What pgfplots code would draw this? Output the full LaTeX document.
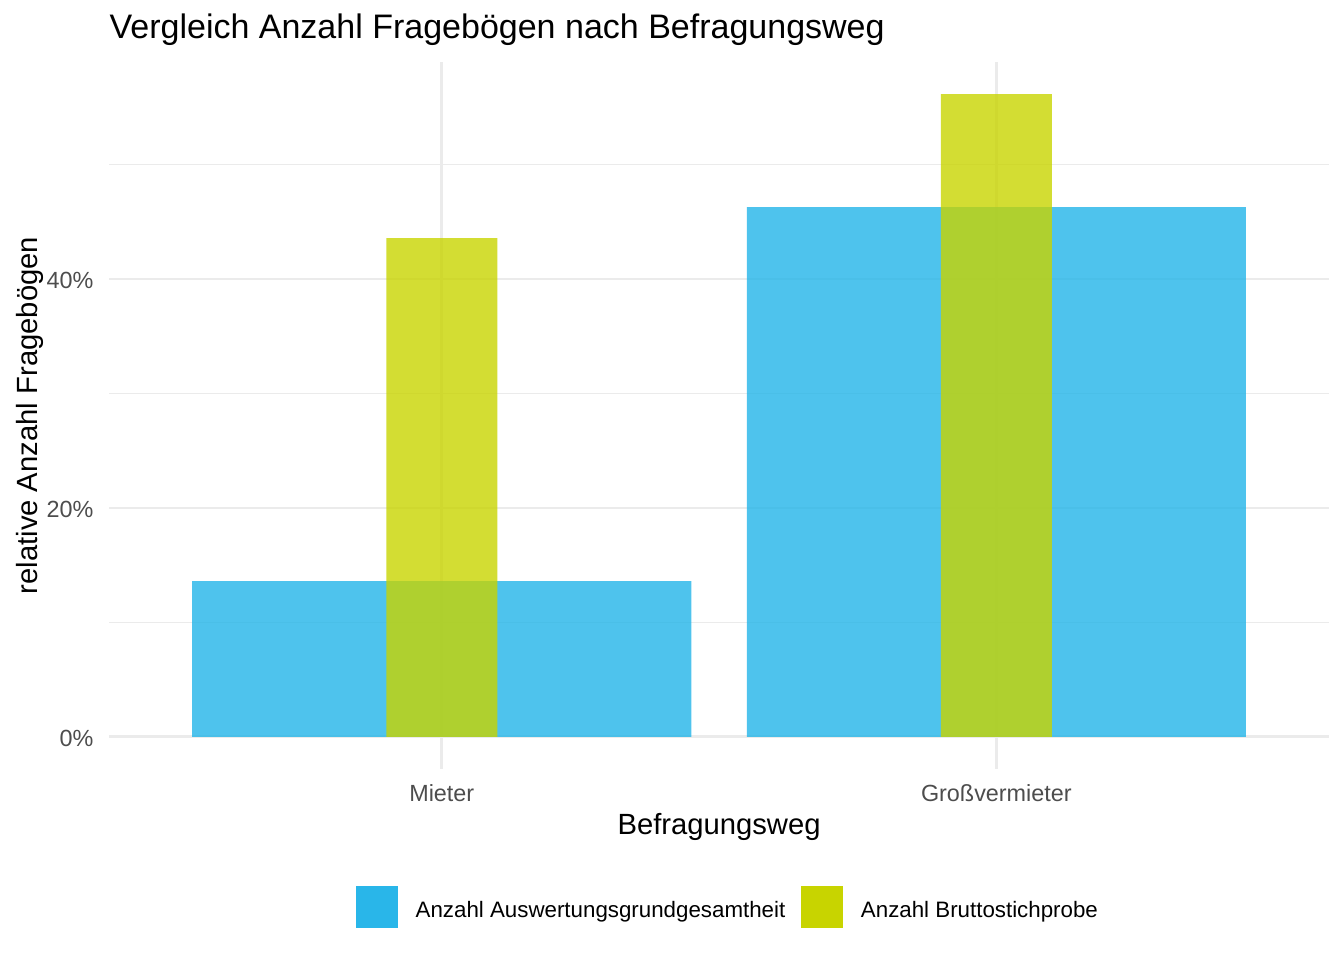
\documentclass[border=0pt]{standalone}
\usepackage{pgfplots}
\pgfplotsset{compat=1.18}
\usepackage{fontspec}
\setmainfont{Liberation Sans}
\definecolor{cBlue}{HTML}{29B6E9}
\definecolor{cBlueBar}{HTML}{22B4E8}
\definecolor{cYellow}{HTML}{C8D400}
\definecolor{gridc}{HTML}{EBEBEB}
\definecolor{tickc}{HTML}{4D4D4D}
\begin{document}
\begin{tikzpicture}
\path[use as bounding box] (0,0) rectangle (504bp,360bp);
\begin{axis}[
  at={(40.9bp,71.6bp)}, anchor=south west,
  scale only axis, width=457.5bp, height=265.1bp,
  xmin=0.4, xmax=2.6, ymin=-2.81, ymax=58.95,
  xtick={1,2}, xticklabels={Mieter,Großvermieter},
  ytick={0,20,40}, yticklabels={0\%,20\%,40\%},
  minor ytick={10,30,50},
  xmajorgrids, ymajorgrids, yminorgrids,
  major grid style={color=gridc, line width=1.07bp},
  minor grid style={color=gridc, line width=0.53bp},
  axis line style={draw=none},
  major tick length=0pt, minor tick length=0pt,
  tick style={draw=none},
  ticklabel style={font=\fontsize{8.8}{10}\selectfont, text=tickc, inner sep=0pt},
  xticklabel style={anchor=base, yshift=-12bp},
  yticklabel style={anchor=base east, xshift=-5.65bp, yshift=-3.5bp},
  xlabel={Befragungsweg},
  ylabel={relative Anzahl Fragebögen},
  label style={font=\fontsize{11}{13}\selectfont, inner sep=0pt},
  xlabel style={at={(axis description cs:0.5,-0.09204)}, anchor=base},
  ylabel style={at={(axis description cs:-0.05902,0.5)}, anchor=base},
  every axis title shift=0pt,
  title={Vergleich Anzahl Fragebögen nach Befragungsweg},
  title style={font=\fontsize{12.8}{15}\selectfont, at={(axis description cs:0,1.0341)}, anchor=base west, inner sep=0pt},
  legend columns=2,
  legend style={draw=none, fill=none, at={(axis description cs:0.5065,-0.195)}, anchor=center,
    font=\fontsize{8.4}{10}\selectfont, inner sep=0pt,
    nodes={inner sep=0pt, yshift=-1.5bp},
    /tikz/every odd column/.append style={column sep=6.6bp},
    /tikz/every even column/.append style={column sep=6bp}},
]
\addplot[ybar, bar width=0.9, bar shift=0pt, fill=cBlueBar, fill opacity=0.8, draw=none,
  legend image code/.code={\fill[fill=cBlue, fill opacity=1] (0bp,-7.875bp) rectangle (15.75bp,7.875bp);}]
  coordinates {(1,13.62) (2,46.29)};
\addlegendentry{Anzahl Auswertungsgrundgesamtheit}
\addplot[ybar, bar width=0.2, bar shift=0pt, fill=cYellow, fill opacity=0.8, draw=none,
  legend image code/.code={\fill[fill=cYellow, fill opacity=1] (0bp,-7.875bp) rectangle (15.75bp,7.875bp);}]
  coordinates {(1,43.58) (2,56.16)};
\addlegendentry{Anzahl Bruttostichprobe}
\end{axis}
\end{tikzpicture}
\end{document}
